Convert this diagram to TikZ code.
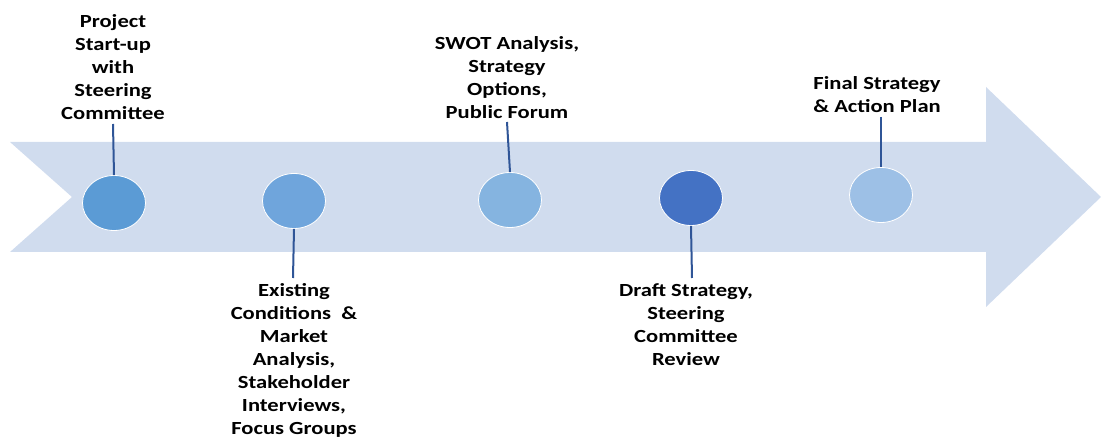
\documentclass[tikz,border=0pt]{standalone}
\usepackage{fontspec}
\setmainfont{Carlito}[FakeStretch=1.22]
\usetikzlibrary{shapes.geometric}
\definecolor{arrowfill}{HTML}{D0DCEE}
\definecolor{linecol}{HTML}{2F5597}
\definecolor{cA}{HTML}{5B9BD5}
\definecolor{cB}{HTML}{6FA5DC}
\definecolor{cC}{HTML}{85B4E0}
\definecolor{cD}{HTML}{4472C4}
\definecolor{cE}{HTML}{9DC0E6}
\tikzset{
  x=1pt, y=-1pt,
  dot/.style={ellipse, draw=white, line width=0.8pt, minimum width=63pt, minimum height=55pt, inner sep=0pt},
  lbl/.style={align=center, inner sep=0pt, font=\fontsize{18.5}{23}\selectfont\bfseries, text=black},
  stem/.style={draw=linecol, line width=2pt}
}
\begin{document}
\begin{tikzpicture}
\useasboundingbox (0,0) rectangle (1101,438);
\fill[arrowfill] (10,142) -- (986,142) -- (986,87) -- (1101,197) -- (986,307) -- (986,252) -- (10,252) -- (72,197) -- cycle;

\node[dot, fill=cA] (c1) at (114,203) {};
\node[dot, fill=cB] (c2) at (294,201) {};
\node[dot, fill=cC] (c3) at (510,200) {};
\node[dot, fill=cD] (c4) at (691,198) {};
\node[dot, fill=cE] (c5) at (881,195) {};

\coordinate (t1) at (113,124);
\coordinate (t2) at (293,278);
\coordinate (t3) at (507,122);
\coordinate (t4) at (692,278);
\coordinate (t5) at (881,117);

\draw[stem] (t1) -- (c1.north);
\draw[stem] (c2.south) -- (t2);
\draw[stem] (t3) -- (c3.north);
\draw[stem] (c4.south) -- (t4);
\draw[stem] (t5) -- (c5.north);

\node[lbl, anchor=south] (l1) at (113,120) {Project\\Start-up\\with\\Steering\\Committee};
\node[lbl, anchor=north] (l2) at (294,283) {Existing\\Conditions\ \ \&\\Market\\Analysis,\\Stakeholder\\Interviews,\\Focus Groups};
\node[lbl, anchor=south] (l3) at (507,119) {SWOT Analysis,\\Strategy\\Options,\\Public Forum};
\node[lbl, anchor=north] (l4) at (686,283) {Draft Strategy,\\Steering\\Committee\\Review};
\node[lbl, anchor=south] (l5) at (877,113) {Final Strategy\\\& Action Plan};
\end{tikzpicture}
\end{document}
